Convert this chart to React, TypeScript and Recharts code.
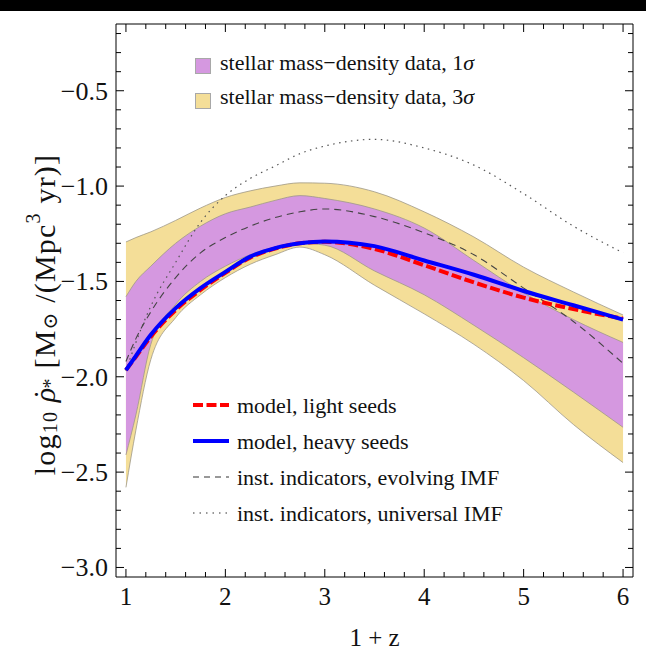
import React from "react";
import { ComposedChart, Area, Line, XAxis, YAxis, Legend } from "recharts";

const FONT = "'Liberation Serif', 'Times New Roman', 'DejaVu Serif', serif";

// sample points in 1 + z
const onePlusZ = [1, 1.1, 1.25, 1.5, 1.75, 2, 2.25, 2.5, 2.75, 3, 3.5, 4, 4.5, 5, 5.5, 6];

// stellar mass-density data, 3 sigma band
const band3Lo = [-2.58, -2.28, -1.91, -1.69, -1.57, -1.48, -1.41, -1.36, -1.32, -1.36, -1.52, -1.67, -1.83, -2.02, -2.25, -2.45];
const band3Hi = [-1.293, -1.27, -1.24, -1.18, -1.115, -1.06, -1.025, -1.0, -0.983, -0.985, -1.03, -1.135, -1.267, -1.425, -1.555, -1.676];

// stellar mass-density data, 1 sigma band
const band1Lo = [-2.41, -2.2, -1.83, -1.62, -1.5, -1.42, -1.36, -1.32, -1.3, -1.31, -1.445, -1.57, -1.73, -1.9, -2.08, -2.265];
const band1Hi = [-1.58, -1.5, -1.42, -1.3, -1.21, -1.145, -1.11, -1.075, -1.05, -1.065, -1.12, -1.22, -1.39, -1.56, -1.7, -1.82];

// model curves
const lightSeeds = [-1.965, -1.895, -1.79, -1.65, -1.545, -1.455, -1.375, -1.328, -1.3, -1.292, -1.33, -1.415, -1.505, -1.585, -1.645, -1.695];
const heavySeeds = [-1.965, -1.89, -1.78, -1.64, -1.535, -1.45, -1.37, -1.325, -1.3, -1.29, -1.315, -1.39, -1.465, -1.55, -1.625, -1.7];

// instantaneous indicators
const evolvingImf = [-1.92, -1.8, -1.66, -1.48, -1.35, -1.27, -1.21, -1.165, -1.135, -1.12, -1.16, -1.245, -1.36, -1.535, -1.71, -1.93];
const universalImf = [-1.97, -1.82, -1.63, -1.4, -1.19, -1.05, -0.96, -0.895, -0.83, -0.79, -0.755, -0.8, -0.89, -1.04, -1.21, -1.35];

const xTicks = [1, 1.2, 1.4, 1.6, 1.8, 2, 2.2, 2.4, 2.6, 2.8, 3, 3.2, 3.4, 3.6, 3.8, 4, 4.2, 4.4, 4.6, 4.8, 5, 5.2, 5.4, 5.6, 5.8, 6];
const yTicks = [-3, -2.9, -2.8, -2.7, -2.6, -2.5, -2.4, -2.3, -2.2, -2.1, -2, -1.9, -1.8, -1.7, -1.6, -1.5, -1.4, -1.3, -1.2, -1.1, -1, -0.9, -0.8, -0.7, -0.6, -0.5, -0.4, -0.3, -0.2];

const bandLabels = ["stellar mass\u2212density data, 1\u03c3", "stellar mass\u2212density data, 3\u03c3"];
const lineLabels = [
  "model, light seeds",
  "model, heavy seeds",
  "inst. indicators, evolving IMF",
  "inst. indicators, universal IMF",
];

const PURPLE = "#d598e0";
const YELLOW = "#f4de98";
const EDGE = "#9e9888";

const bandFills = [PURPLE, YELLOW];
const lineStyles = [
  { stroke: "#ff0000", width: 4, dash: "10 3.5" },
  { stroke: "#0000ff", width: 4, dash: undefined },
  { stroke: "#333", width: 1.2, dash: "6 5" },
  { stroke: "#333", width: 1.2, dash: "1.5 5" },
];

const rows = onePlusZ.map((x, i) => ({
  x,
  sigma3: [band3Lo[i], band3Hi[i]],
  sigma1: [band1Lo[i], band1Hi[i]],
  light: lightSeeds[i],
  heavy: heavySeeds[i],
  evolving: evolvingImf[i],
  universal: universalImf[i],
}));

const isInt = (v: number) => Math.abs(v - Math.round(v)) < 1e-6;
const isHalf = (v: number) => Math.abs(v * 2 - Math.round(v * 2)) < 1e-6;
const fmtY = (v: number) => v.toFixed(1).replace("-", "\u2212");

function BottomTick({ x, y, payload }: any) {
  const major = isInt(payload.value);
  return (
    <g>
      <line x1={x} x2={x} y1={y} y2={y - (major ? 8 : 5)} stroke="#000" />
      {major && (
        <text x={x} y={y + 28} textAnchor="middle" fontSize={25} fontFamily={FONT} fill="#111">
          {payload.value}
        </text>
      )}
    </g>
  );
}

function TopTick({ x, y, payload }: any) {
  const major = isInt(payload.value);
  return <line x1={x} x2={x} y1={y} y2={y + (major ? 8 : 5)} stroke="#000" />;
}

function LeftTick({ x, y, payload }: any) {
  const major = isHalf(payload.value);
  return (
    <g>
      <line x1={x} x2={x + (major ? 8 : 5)} y1={y} y2={y} stroke="#000" />
      {major && (
        <text x={x - 8} y={y + 9} textAnchor="end" fontSize={26} fontFamily={FONT} fill="#111">
          {fmtY(payload.value)}
        </text>
      )}
    </g>
  );
}

function RightTick({ x, y, payload }: any) {
  const major = isHalf(payload.value);
  return <line x1={x} x2={x - (major ? 8 : 5)} y1={y} y2={y} stroke="#000" />;
}

function XTitle({ viewBox }: any) {
  return (
    <text x={viewBox.x + viewBox.width / 2} y={viewBox.y + 69} textAnchor="middle" fontSize={25} fontFamily={FONT} fill="#111">
      1 + z
    </text>
  );
}

// rotated y title: log10 rho-dot_* [M_sun /(Mpc^3 yr)]
function YTitle({ viewBox }: any) {
  const cx = viewBox.x + viewBox.width - 72;
  const cy = viewBox.y + viewBox.height / 2 + 14;
  return (
    <text
      transform={`translate(${cx},${cy}) rotate(-90)`}
      textAnchor="middle"
      dominantBaseline="central"
      fontSize={30}
      letterSpacing={1.2}
      fontFamily={FONT}
      fill="#111"
    >
      <tspan>log</tspan>
      <tspan fontSize={20} dy={6}>10</tspan>
      <tspan dy={-6} fontStyle="italic"> {"\u03c1"}</tspan>
      <tspan dx={-13}>{"\u02d9"}</tspan>
      <tspan fontSize={20} dy={6}>*</tspan>
      <tspan dy={-6}> [M</tspan>
      <tspan fontSize={20} dy={6}>{"\u2299"}</tspan>
      <tspan dy={-6}> /(Mpc</tspan>
      <tspan fontSize={20} dy={-11}>3</tspan>
      <tspan dy={11}> yr)]</tspan>
    </text>
  );
}

function Key() {
  return (
    <svg width={646} height={651} style={{ position: "absolute", left: 0, top: 0 }} fontFamily={FONT}>
      {bandLabels.map((label, i) => (
        <g key={label}>
          <rect x={195.5} y={58.5 + i * 35} width={15} height={15} fill={bandFills[i]} stroke="#a8a8a8" />
          <text x={220} y={70 + i * 34} fontSize={22} fill="#111">
            {label.slice(0, -1)}
            <tspan fontStyle="italic">{label.slice(-1)}</tspan>
          </text>
        </g>
      ))}
      {lineLabels.map((label, i) => {
        const y = 405 + i * 36;
        const s = lineStyles[i];
        return (
          <g key={label}>
            <line x1={193} x2={229} y1={y} y2={y} stroke={s.stroke} strokeWidth={s.width} strokeDasharray={s.dash} />
            <text x={237} y={y + 8} fontSize={22} fill="#111">
              {label}
            </text>
          </g>
        );
      })}
    </svg>
  );
}

export default function App() {
  return (
    <div style={{ position: "absolute", left: 0, top: 0, width: 646, height: 651, background: "#fff" }}>
      <div style={{ position: "absolute", left: 0, top: 0, width: 646, height: 11, background: "#000" }} />
      <ComposedChart width={646} height={651} data={rows} margin={{ top: 19, right: 8, bottom: 34, left: 76 }}>
        <XAxis
          xAxisId="b"
          type="number"
          dataKey="x"
          domain={[0.9, 6.1]}
          allowDataOverflow
          ticks={xTicks}
          interval={0}
          height={40}
          tickSize={0}
          tickMargin={0}
          tickLine={false}
          axisLine={{ stroke: "#000" }}
          tick={<BottomTick />}
          label={<XTitle />}
        />
        <XAxis
          xAxisId="t"
          orientation="top"
          type="number"
          dataKey="x"
          domain={[0.9, 6.1]}
          allowDataOverflow
          ticks={xTicks}
          interval={0}
          height={5}
          tickSize={0}
          tickMargin={0}
          tickLine={false}
          axisLine={{ stroke: "#000" }}
          tick={<TopTick />}
        />
        <YAxis
          yAxisId="l"
          type="number"
          domain={[-3.05, -0.15]}
          allowDataOverflow
          ticks={yTicks}
          interval={0}
          width={40}
          tickSize={0}
          tickMargin={0}
          tickLine={false}
          axisLine={{ stroke: "#000" }}
          tick={<LeftTick />}
          label={<YTitle />}
        />
        <YAxis
          yAxisId="r"
          orientation="right"
          type="number"
          domain={[-3.05, -0.15]}
          allowDataOverflow
          ticks={yTicks}
          interval={0}
          width={5}
          tickSize={0}
          tickMargin={0}
          tickLine={false}
          axisLine={{ stroke: "#000" }}
          tick={<RightTick />}
        />
        <Area
          xAxisId="b"
          yAxisId="l"
          dataKey="sigma3"
          type="monotone"
          fill={YELLOW}
          fillOpacity={1}
          stroke={EDGE}
          strokeWidth={0.8}
          isAnimationActive={false}
        />
        <Area
          xAxisId="b"
          yAxisId="l"
          dataKey="sigma1"
          type="monotone"
          fill={PURPLE}
          fillOpacity={1}
          stroke={EDGE}
          strokeWidth={0.8}
          isAnimationActive={false}
        />
        <Line xAxisId="b" yAxisId="l" dataKey="universal" type="monotone" stroke="#555" strokeWidth={1.2} strokeDasharray="1.5 4.5" dot={false} isAnimationActive={false} />
        <Line xAxisId="b" yAxisId="l" dataKey="evolving" type="monotone" stroke="#444" strokeWidth={1.1} strokeDasharray="7 5" dot={false} isAnimationActive={false} />
        <Line xAxisId="b" yAxisId="l" dataKey="light" type="monotone" stroke="#ff0000" strokeWidth={4} strokeDasharray="10 3.5" dot={false} isAnimationActive={false} />
        <Line xAxisId="b" yAxisId="l" dataKey="heavy" type="monotone" stroke="#0000ff" strokeWidth={4} dot={false} isAnimationActive={false} />
        <Legend
          layout="vertical"
          align="center"
          verticalAlign="middle"
          wrapperStyle={{ left: 0, top: 0, width: 646, height: 651, pointerEvents: "none" }}
          content={<Key />}
        />
      </ComposedChart>
    </div>
  );
}
